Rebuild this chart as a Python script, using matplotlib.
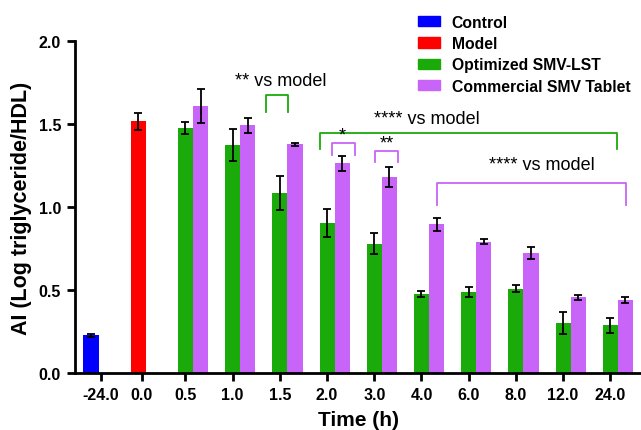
import numpy as np
import matplotlib.pyplot as plt
from matplotlib.patches import Patch

plt.rcParams['font.family'] = ['Liberation Sans', 'DejaVu Sans']

# data
tick_labels = ["-24.0", "0.0", "0.5", "1.0", "1.5", "2.0", "3.0", "4.0", "6.0", "8.0", "12.0", "24.0"]
control_val, control_err = 0.226, 0.01
model_val, model_err = 1.517, 0.052
smv_lst = [1.475, 1.373, 1.084, 0.906, 0.778, 0.473, 0.487, 0.509, 0.303, 0.287]
smv_lst_err = [0.038, 0.096, 0.102, 0.084, 0.063, 0.018, 0.032, 0.019, 0.067, 0.044]
tablet = [1.607, 1.493, 1.377, 1.263, 1.182, 0.896, 0.792, 0.723, 0.455, 0.437]
tablet_err = [0.103, 0.046, 0.01, 0.047, 0.06, 0.04, 0.016, 0.039, 0.013, 0.018]

green = "#1aab0a"
purple = "#c864f8"
w = 0.32

fig = plt.figure(figsize=(6.41, 4.31), dpi=100)
ax = fig.add_axes([75 / 641, 57 / 431, 566 / 641, 332 / 431])

ekw = dict(capsize=3.2, ecolor="black", elinewidth=1.3, capthick=1.3)
x = np.arange(len(smv_lst))
ax.bar(-2.0, control_val, w, color="#0000ff", yerr=control_err, error_kw=ekw)
ax.bar(-1.0, model_val, w, color="#ff0000", yerr=model_err, error_kw=ekw)
ax.bar(x, smv_lst, w, color=green, yerr=smv_lst_err, error_kw=ekw)
ax.bar(x + w, tablet, w, color=purple, yerr=tablet_err, error_kw=ekw)

ax.set_xlim(-2.34, 9.65)
ax.set_ylim(0, 2.0)
ax.set_xticks(np.r_[-1.79, -0.93, x], tick_labels)
ax.set_yticks([0, 0.5, 1.0, 1.5, 2.0])
ax.yaxis.set_major_formatter(plt.FormatStrFormatter("%.1f"))
for lab in ax.get_xticklabels() + ax.get_yticklabels():
    lab.set_fontweight("bold")
ax.tick_params(labelsize=11.5, width=2, length=6, pad=4)
for s in ["top", "right"]:
    ax.spines[s].set_visible(False)
for s in ["left", "bottom"]:
    ax.spines[s].set_linewidth(2)

ax.set_xlabel("Time (h)", fontsize=15, fontweight="bold", labelpad=6)
ax.set_ylabel("AI (Log triglyceride/HDL)", fontsize=15.5, fontweight="bold", labelpad=5)

# significance brackets
def bracket(x0, x1, ytop, ybot, color):
    ax.plot([x0, x0, x1, x1], [ybot, ytop, ytop, ybot], color=color, lw=1.3, clip_on=False)

bracket(1.71, 2.17, 1.675, 1.57, green)
bracket(2.86, 9.14, 1.444, 1.35, green)
bracket(3.10, 3.59, 1.385, 1.313, purple)
bracket(4.01, 4.51, 1.339, 1.269, purple)
bracket(5.32, 9.33, 1.143, 1.012, purple)

ax.text(2.02, 1.76, "** vs model", fontsize=13, ha="center", va="center")
ax.text(5.12, 1.536, "**** vs model", fontsize=13, ha="center", va="center")
ax.text(7.55, 1.255, "**** vs model", fontsize=13, ha="center", va="center")
ax.text(3.33, 1.38, "*", fontsize=13, ha="center", va="bottom")
ax.text(4.26, 1.334, "**", fontsize=13, ha="center", va="bottom")

handles = [Patch(color="#0000ff"), Patch(color="#ff0000"), Patch(color=green), Patch(color=purple)]
names = ["Control", "Model", "Optimized SMV-LST", "Commercial SMV Tablet"]
fig.legend(handles, names, loc="upper left", bbox_to_anchor=(0.643, 0.978), frameon=False,
           prop=dict(size=11.3, weight="bold"), handlelength=1.37, handleheight=0.65,
           handletextpad=0.75, labelspacing=0.4, borderpad=0.4, borderaxespad=0)

fig.savefig("out.png", dpi=100)
